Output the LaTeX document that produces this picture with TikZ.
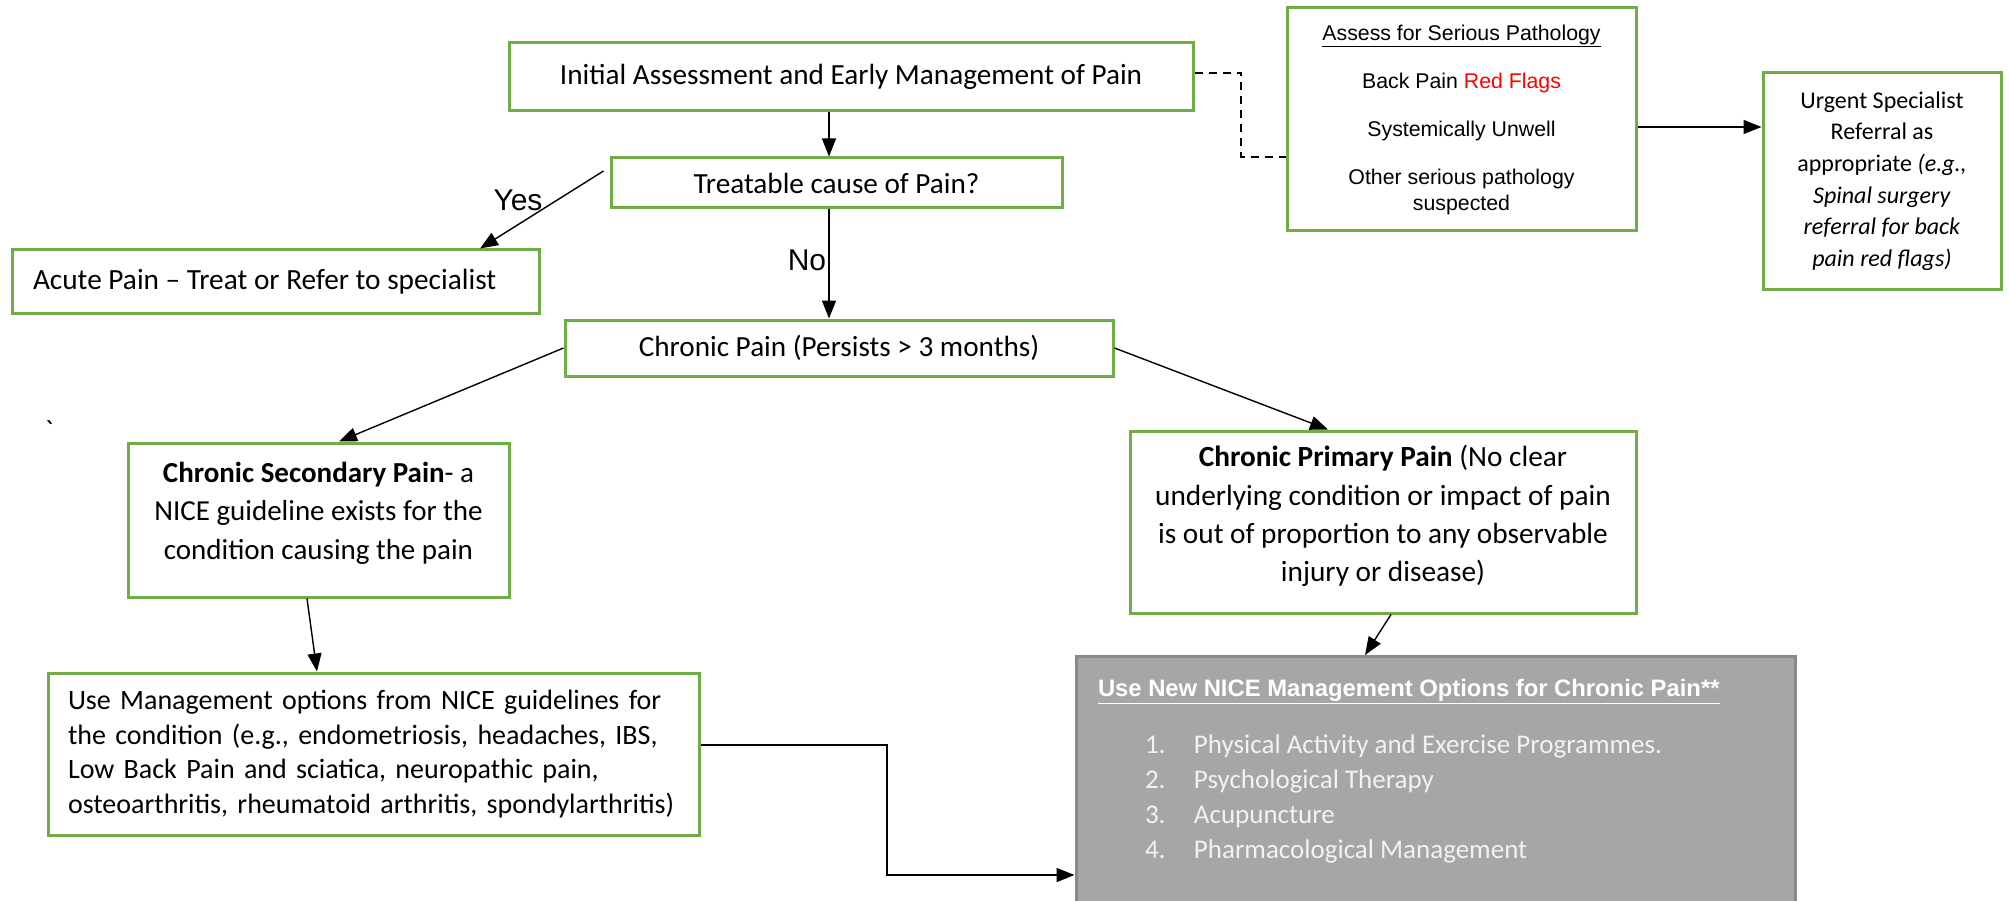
\documentclass[tikz,border=0pt]{standalone}
\usepackage{fontspec}
\setmainfont{Carlito}
\newfontfamily\arialf{Liberation Sans}
\usetikzlibrary{arrows.meta,calc}
\definecolor{nicegreen}{HTML}{70AD47}
\definecolor{boxgray}{HTML}{A6A6A6}
\definecolor{boxgrayline}{HTML}{898989}
\definecolor{listwhite}{HTML}{F2F2F2}
\begin{document}
\begin{tikzpicture}[x=1pt,y=-1pt,
  gbox/.style={draw=nicegreen, line width=3pt, inner sep=0pt, align=center, text=black},
  pbox/.style={draw=nicegreen, line width=3pt, inner sep=0pt, text=black},
  conn/.style={draw=black, line width=1.4pt, -{Triangle[length=18pt,width=14pt]}},
  dashconn/.style={draw=black, line width=1.6pt, dash pattern=on 8pt off 6pt},
  lbl/.style={font=\arialf\fontsize{30}{36}\selectfont, inner sep=0pt}]
\useasboundingbox (0,0) rectangle (2009,901);
\clip (0,0) rectangle (2009,901);
\fill[white] (0,0) rectangle (2009,901);

% nodes
\node[gbox, minimum width=684pt, minimum height=68pt, font=\fontsize{29.2}{36}\selectfont] (init) at (851,77) {Initial Assessment and Early Management of Pain};
\node[gbox, minimum width=451pt, minimum height=50pt, font=\fontsize{29.2}{36}\selectfont] (treat) at (836.5,183) {Treatable cause of Pain?};
\node[gbox, minimum width=349pt, minimum height=223pt, font=\arialf\fontsize{21.3}{26}\selectfont] (assess) at (1461.5,119.5) {\underline{Assess for Serious Pathology}\\[22pt]Back Pain \textcolor{red}{Red Flags}\\[22pt]Systemically Unwell\\[22pt]Other serious pathology\\suspected};
\node[gbox, minimum width=238pt, minimum height=216pt, font=\fontsize{24}{31.6}\selectfont] (urgent) at (1882,181) {Urgent Specialist\\Referral as\\appropriate \textit{(e.g.,}\\\textit{Spinal surgery}\\\textit{referral for back}\\\textit{pain red flags)}};
\node[pbox, minimum height=63pt, inner xsep=21pt, font=\fontsize{29.3}{36}\selectfont] (acute) at (275.5,281.5) {\makebox[485pt][l]{Acute Pain – Treat or Refer to specialist}};
\node[gbox, minimum width=548pt, minimum height=56pt, font=\fontsize{29.2}{36}\selectfont] (chronic) at (839,348) {Chronic Pain (Persists > 3 months)};
\node[pbox] (second) at (318.5,520) {\parbox[c][154pt][t]{381pt}{\centering\fontsize{29}{38.5}\selectfont\vspace*{19pt}\textbf{Chronic Secondary Pain}- a\\NICE guideline exists for the\\condition causing the pain}};
\node[gbox, minimum width=506pt, minimum height=182pt, font=\fontsize{29.3}{38.3}\selectfont] (primary) at (1383,522) {\textbf{Chronic Primary Pain} (No clear\\underlying condition or impact of pain\\is out of proportion to any observable\\injury or disease)\rule[-17pt]{0pt}{17pt}};
\node[gbox, minimum height=162pt, text width=611pt, inner xsep=20pt, align=left, font=\fontsize{28}{34.7}\selectfont] (mgmt) at (373.5,754) {Use Management options from NICE guidelines for\\the condition (e.g., endometriosis, headaches, IBS,\\Low Back Pain and sciatica, neuropathic pain,\\osteoarthritis, rheumatoid arthritis, spondylarthritis)};
\node[draw=boxgrayline, fill=boxgray, line width=3pt, inner sep=0pt, anchor=north] (gray) at (1435.5,655) {\parbox[c][260pt][t]{719pt}{\raggedright\vspace*{23pt}%
{\arialf\bfseries\fontsize{23.8}{28}\selectfont\hspace*{22pt}\color{white}\underline{Use New NICE Management Options for Chronic Pain**}\par}%
\vspace{21.5pt}%
{\fontsize{27}{35}\selectfont
\hspace*{69pt}\color{listwhite}\makebox[49pt][l]{1.}Physical Activity and Exercise Programmes.\par
\hspace*{69pt}\makebox[49pt][l]{2.}Psychological Therapy\par
\hspace*{69pt}\makebox[49pt][l]{3.}Acupuncture\par
\hspace*{69pt}\makebox[49pt][l]{4.}Pharmacological Management\par}}};
\node[font=\fontsize{29}{30}\selectfont, inner sep=0pt] (tick) at (49,431) {\textasciigrave};

% labels
\node[lbl] (yes) at (518,200) {Yes};
\node[lbl] (no) at (807,260) {No};

% connectors
\coordinate (spine) at (829,0);
\draw[conn] (init.south -| spine) -- (treat.north -| spine);
\draw[conn] (treat.south -| spine) -- (chronic.north -| spine);
\draw[conn] ($(treat.west)+(-6,-12)$) -- ($(acute.north)+(204.5,0)$);
\draw[conn] (chronic.west) -- ($(second.north)+(20.5,0)$);
\draw[conn] (chronic.east) -- ($(primary.north)+(-55,0)$);
\draw[conn] ($(second.south)+(-11.5,0)$) -- ($(mgmt.north)+(-56.5,0)$);
\draw[conn] ($(primary.south)+(8,0)$) -- ($(gray.north)+(-70.5,0)$);
\coordinate (elb) at (887,875);
\draw[conn] ($(mgmt.east)+(0,-9)$) -| (elb) -- (elb -| gray.west);
\coordinate (aeast) at ($(assess.east)+(0,7.5)$);
\draw[conn] (aeast) -- (aeast -| urgent.west);
\coordinate (dstart) at ($(init.east)+(0,-4)$);
\coordinate (dend) at ($(assess.west)+(0,37.5)$);
\coordinate (dcorner) at (1241,0);
\draw[dashconn] (dstart) -- (dstart -| dcorner) -- (dend -| dcorner) -- (dend);
\end{tikzpicture}
\end{document}
